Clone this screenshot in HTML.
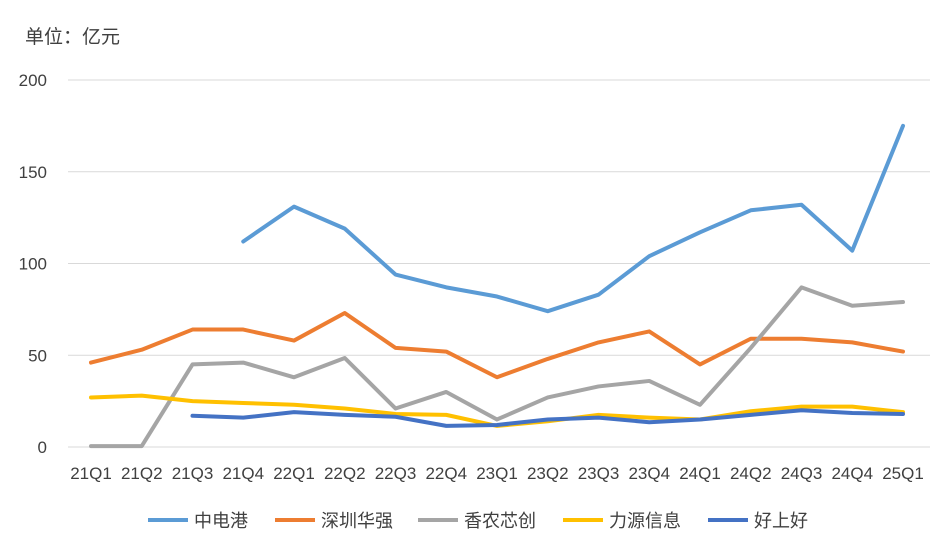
<!DOCTYPE html>
<html><head><meta charset="utf-8"><style>
body{margin:0;background:#fff;font-family:"Liberation Sans","Noto Sans CJK SC",sans-serif;}
svg text{font-family:"Liberation Sans","Noto Sans CJK SC",sans-serif;fill:#404040;}
</style></head><body>
<svg id="chart" width="949" height="553">
<text x="25" y="43" font-size="19">单位：亿元</text>
<g id="grid"></g><g id="lines"></g><g id="legend"></g>
</svg>
<script>
const categories=["21Q1","21Q2","21Q3","21Q4","22Q1","22Q2","22Q3","22Q4","23Q1","23Q2","23Q3","23Q4","24Q1","24Q2","24Q3","24Q4","25Q1"];
const yTicks=[0,50,100,150,200];
const seriesNames=["中电港","深圳华强","香农芯创","力源信息","好上好"];
const zdg=[null,null,null,112,131,119,94,87,82,74,83,104,117,129,132,107,175];
const szhq=[46,53,64,64,58,73,54,52,38,48,57,63,45,59,59,57,52];
const xnxc=[0.5,0.5,45,46,38,48.5,21,30,15,27,33,36,23,54,87,77,79];
const lyxx=[27,28,25,24,23,21,18,17.5,11.5,14,17.5,16,15,19.5,22,22,19];
const hsh=[null,null,17,16,19,17.5,16.5,11.5,12,15,16,13.5,15,17.5,20,18.5,18];
const seriesData=[zdg,szhq,xnxc,lyxx,hsh];
const colors=["#5B9BD5","#ED7D31","#A5A5A5","#FFC000","#4472C4"];
const NS="http://www.w3.org/2000/svg";
const x0=91,dx=50.75,yBase=447,yTop=80,yMax=200;
const xs=i=>x0+i*dx, ys=v=>yBase-(v/yMax)*(yBase-yTop);
function mk(t,a,p){const e=document.createElementNS(NS,t);for(const k in a)e.setAttribute(k,a[k]);p.appendChild(e);return e;}
const grid=document.getElementById('grid');
yTicks.forEach(v=>{
 const l=mk('line',{x1:68,x2:930,y1:ys(v),y2:ys(v),stroke:'#d9d9d9','stroke-width':1},grid);
 
 
 const t=mk('text',{x:47,y:ys(v)+6,'text-anchor':'end','font-size':17},grid);t.textContent=v;
 
 
});
categories.forEach((c,i)=>{
 const t=mk('text',{x:xs(i),y:479,'text-anchor':'middle','font-size':17},grid);t.textContent=c;
 
 
});
const lines=document.getElementById('lines');
seriesData.forEach((d,s)=>{
 let pts=[];d.forEach((v,i)=>{if(v!==null)pts.push(xs(i)+','+ys(v));});
 const p=mk('polyline',{points:pts.join(' '),fill:'none',stroke:colors[s],'stroke-width':4,'stroke-linejoin':'round','stroke-linecap':'round'},lines);
 
 
});
const lg=document.getElementById('legend');
const lx=[148,275,418,563,708];
seriesNames.forEach((n,s)=>{
 const g=mk('g',{},lg);
 
 
 mk('line',{x1:lx[s],x2:lx[s]+40,y1:520,y2:520,stroke:colors[s],'stroke-width':4},g);
 const t=mk('text',{x:lx[s]+46,y:527,'font-size':18},g);t.textContent=n;
});
</script>
</body></html>
